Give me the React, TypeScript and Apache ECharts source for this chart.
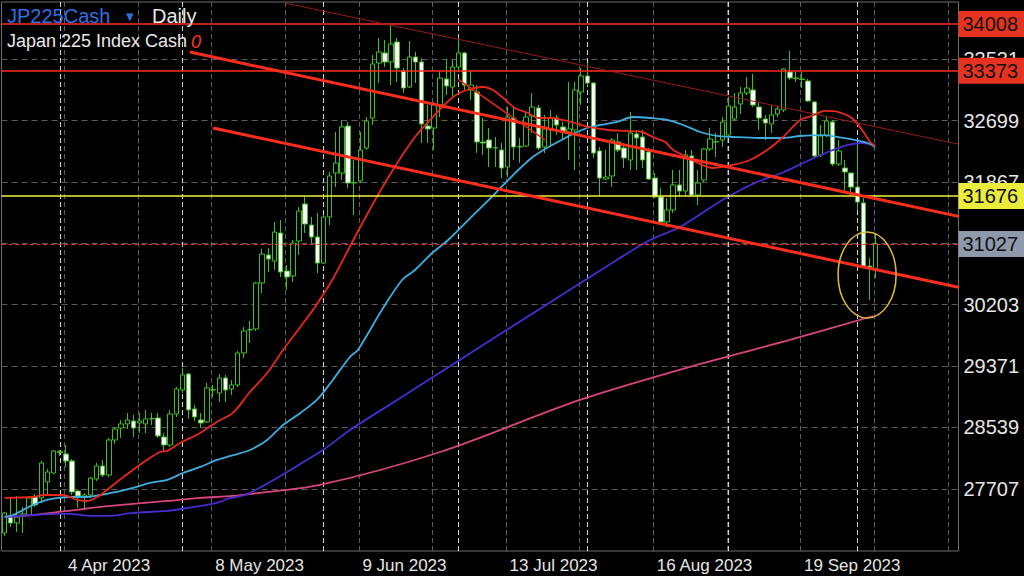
import React, { useEffect, useRef } from "react";
import * as echarts from "echarts";

const FONT = "'Liberation Sans', Arial, Helvetica, sans-serif";

// ---- data ----
const FIRST_DAY = [2023, 2, 21]; // 21 Mar 2023, daily bars on weekdays
const BAR_COUNT = 143;
const EMPTY_BARS = 13; // right-hand shift
const TICK_LABELS = ["4 Apr 2023", "8 May 2023", "9 Jun 2023", "13 Jul 2023", "16 Aug 2023", "19 Sep 2023"];

// [open, close, low, high]
const OHLC: number[][] = [
  [27109, 27381, 27069, 27394], [27326, 27245, 27191, 27597], [27245, 27326, 27123, 27611], [27353, 27367, 27109, 27462],
  [27353, 27584, 27340, 27611], [27597, 27489, 27462, 27638], [27584, 28058, 27516, 28085], [27800, 27936, 27624, 27977],
  [27922, 28221, 27909, 28234], [28200, 28215, 28153, 28234], [28180, 28085, 28004, 28302], [28085, 27665, 27624, 28112],
  [27678, 27611, 27448, 27692], [27597, 27624, 27448, 27651], [27624, 27854, 27584, 27868], [27841, 28017, 27814, 28058],
  [28017, 27895, 27868, 28099], [27895, 28370, 27868, 28397], [28370, 28519, 28315, 28546], [28532, 28587, 28397, 28641],
  [28587, 28641, 28519, 28736], [28627, 28532, 28410, 28709], [28600, 28627, 28465, 28736], [28587, 28655, 28465, 28777],
  [28655, 28660, 28573, 28736], [28668, 28424, 28397, 28736], [28410, 28302, 28221, 28465], [28302, 28722, 28275, 28777],
  [28722, 29061, 28682, 29088], [29047, 29251, 29007, 29345], [29264, 28777, 28655, 29278], [28790, 28682, 28627, 28844],
  [28641, 28600, 28532, 28736], [28614, 29075, 28600, 29142], [29047, 29050, 28953, 29115], [29007, 29210, 28885, 29264],
  [29210, 29047, 28885, 29251], [29061, 29115, 28980, 29183], [29115, 29549, 29088, 29576], [29549, 29847, 29481, 29901],
  [29861, 29868, 29684, 29982], [29874, 30498, 29847, 30511], [30498, 30890, 30362, 30958], [30877, 30823, 30647, 30972],
  [30795, 31188, 30674, 31324], [31175, 30647, 30579, 31351], [30660, 30579, 30403, 30741], [30593, 31039, 30511, 31080],
  [31066, 31473, 30877, 31527], [31568, 31297, 31175, 31663], [31283, 31121, 31026, 31392], [31121, 30768, 30633, 31446],
  [30768, 31392, 30755, 31419], [31392, 31948, 31283, 32002], [31988, 32124, 31798, 32544], [31988, 32612, 31893, 32707],
  [32625, 31853, 31785, 32680], [31853, 31860, 31419, 32165], [31880, 32300, 31853, 32544], [32327, 32693, 32300, 32747],
  [32734, 33466, 32639, 33588], [33479, 33628, 33208, 33818], [33615, 33493, 33425, 33791], [33493, 33737, 33181, 33994],
  [33764, 33411, 33222, 33818], [33371, 33140, 33073, 33411], [33154, 33560, 33140, 33777], [33560, 33493, 33208, 33628],
  [33493, 32653, 32395, 33547], [32625, 32585, 32395, 32910], [32598, 32910, 32300, 32951], [32910, 33276, 32747, 33371],
  [33262, 33168, 33045, 33533], [33154, 33425, 33032, 33533], [33425, 33615, 33357, 33818], [33615, 33181, 33113, 33630],
  [33113, 33181, 32978, 33384], [33086, 32409, 32259, 33181], [32409, 32395, 32232, 32734], [32436, 32327, 32070, 32598],
  [32327, 32334, 32070, 32476], [32300, 32056, 31920, 32395], [32070, 32747, 31934, 32883], [32734, 32341, 32165, 32870],
  [32341, 32348, 32124, 32463], [32354, 32747, 32341, 32815], [32761, 32883, 32531, 33073], [32870, 32327, 32300, 32910],
  [32341, 32585, 32259, 32775], [32571, 32734, 32341, 32842], [32734, 32639, 32503, 32775], [32612, 32544, 32436, 32680],
  [32544, 32585, 32165, 33222], [32571, 33113, 32029, 33222], [33086, 33303, 32910, 33411], [33303, 33208, 33168, 33479],
  [33208, 32259, 32192, 33222], [32287, 31920, 31676, 32341], [31907, 31934, 31893, 32300], [31948, 32436, 31798, 32463],
  [32409, 32300, 32273, 32531], [32327, 32192, 32056, 32368], [32165, 32531, 32029, 32815], [32517, 32463, 32029, 32571],
  [32476, 32165, 32056, 32571], [32273, 31907, 31893, 32327], [31920, 31663, 31649, 31988], [31663, 31324, 31283, 31785],
  [31324, 31487, 31256, 31649], [31487, 31826, 31446, 32029], [31826, 31744, 31663, 32029], [31744, 32232, 31690, 32300],
  [32219, 31690, 31663, 32300], [31690, 31853, 31555, 32029], [31893, 32314, 31866, 32327], [32314, 32449, 32287, 32598],
  [32409, 32415, 32205, 32531], [32436, 32680, 32341, 32747], [32503, 32897, 32476, 33018], [32720, 32883, 32693, 33073],
  [32924, 33073, 32788, 33154], [33073, 33140, 33045, 33289], [33113, 32910, 32883, 33330], [32883, 32734, 32571, 32937],
  [32720, 32666, 32436, 32775], [32653, 32775, 32531, 32910], [32788, 32856, 32747, 32897], [32842, 33398, 32815, 33411],
  [33357, 33276, 33249, 33642], [33276, 33270, 33222, 33357], [33262, 33256, 33140, 33357], [33235, 32964, 32951, 33262],
  [32951, 32219, 32192, 32964], [32232, 32490, 32205, 32639], [32503, 32693, 32476, 32747], [32680, 32110, 32083, 32707],
  [32110, 32287, 32083, 32436], [32056, 32002, 31717, 32165], [31988, 31798, 31690, 31995], [31798, 31595, 31487, 32395],
  [31582, 30714, 30701, 31649], [30728, 30701, 30267, 30836], [30674, 31027, 30565, 31175],
];

// moving averages: [bar index, value]
const MA_RED: number[][] = [
  [0, 27584], [4.6, 27597], [6.3, 27624], [9.5, 27624], [11, 27584], [11.8, 27557], [13.4, 27543], [15.1, 27597],
  [16.7, 27692], [18.3, 27800], [20.9, 27963], [23.2, 28099], [25.3, 28207], [26.5, 28221], [28.6, 28329], [31.9, 28465],
  [34.6, 28614], [37.2, 28736], [40, 29020], [42.8, 29278], [45.4, 29589], [48.2, 29901], [50.6, 30172], [53.4, 30538],
  [56.6, 31040], [60.4, 31622], [63.6, 32070], [66.9, 32476], [69.8, 32747], [73.1, 33018], [75.4, 33113], [78, 33154],
  [79.6, 33113], [81.1, 33018], [83.2, 32869], [85.3, 32802], [87, 32734], [89.2, 32734], [90.9, 32707], [93, 32666],
  [95.1, 32612], [98.4, 32571], [101.1, 32558], [103.9, 32544], [106, 32463], [107.7, 32409], [109, 32300], [111.2, 32205],
  [113, 32124], [115.5, 32056], [118.7, 32097], [121.5, 32165], [124.3, 32300], [126.9, 32476], [129.7, 32707],
  [131.6, 32761], [133.7, 32829], [135.9, 32815], [138.1, 32734], [139.8, 32571], [141.1, 32409], [141.9, 32354],
];
const MA_BLUE: number[][] = [
  [0, 27326], [1.4, 27353], [3, 27421], [4.6, 27489], [6.9, 27557], [8.7, 27584], [10.7, 27597], [13.4, 27597],
  [15.6, 27624], [18.3, 27665], [20.9, 27719], [23.7, 27787], [26.5, 27828], [29.1, 27922], [31.9, 28004], [34.6, 28099],
  [36.8, 28153], [40, 28234], [42.8, 28370], [45.4, 28573], [48.2, 28736], [50.9, 28912], [53.5, 29183], [56.3, 29495],
  [57.6, 29589], [61.5, 30131], [64.8, 30538], [66.9, 30674], [69.7, 30904], [72.3, 31080], [75.9, 31378], [79.6, 31677],
  [80.8, 31785], [86.1, 32205], [91.7, 32476], [94.9, 32598], [97.1, 32639], [99.8, 32680], [102.4, 32747], [105.2, 32734],
  [108, 32707], [110.6, 32639], [113.4, 32544], [116.1, 32490], [118.7, 32476], [123.1, 32463], [126.9, 32463],
  [129.7, 32490], [133.2, 32503], [135.9, 32476], [138.6, 32436], [140.7, 32395], [141.9, 32341],
];
const MA_PURPLE: number[][] = [
  [0, 27326], [4.6, 27353], [10.2, 27367], [14.4, 27340], [16.7, 27340], [20.9, 27381], [26.5, 27408], [29.7, 27448],
  [33, 27489], [35.1, 27530], [36.3, 27570], [40, 27652], [51.9, 28234], [56.3, 28505], [64.5, 28939], [80.8, 29806],
  [99.8, 30809], [105.2, 31080], [110.1, 31257], [117, 31622], [122.3, 31853], [126.7, 31988], [130.5, 32137],
  [134.2, 32273], [137.5, 32368], [139.8, 32395], [141.9, 32368],
];
const MA_PINK: number[][] = [
  [0, 27326], [4.6, 27353], [10.2, 27408], [15.6, 27462], [20.9, 27503], [26.5, 27543], [31.9, 27584], [37.2, 27611],
  [40, 27638], [51.4, 27760], [71, 28207], [93.8, 28912], [113.4, 29400], [128, 29725], [141.6, 30050],
];

const GRID_VALUES = [27707, 28539, 29371, 30203, 31035, 31867, 32699, 33531];
const LABELLED_VALUES = [27707, 28539, 29371, 30203, 31867, 32699, 33531];
const RESISTANCE_LEVELS = [34008, 33373];
const SUPPORT_LEVEL = 31676;
const LAST_PRICE = 31027;

// trend lines: [[bar, value], [bar, value]]
const CHANNEL_TOP = [[45.7, 34292], [155.5, 32379]];
const UPPER_TREND = [[30.2, 33628], [155.5, 31400]];
const LOWER_TREND = [[34.0, 32598], [155.5, 30439]];
const SHORT_TREND = [[73.9, 33262], [88.1, 32436]];
// highlight ellipse: centre bar, centre value, half width (bars), half height (points)
const HIGHLIGHT = [140.6, 30606, 4.73, 583];

const Y_MIN = 26865;
const Y_MAX = 34306;

// ---- helpers ----
const MONTHS = ["Jan", "Feb", "Mar", "Apr", "May", "Jun", "Jul", "Aug", "Sep", "Oct", "Nov", "Dec"];

function tradingDays() {
  const out: { label: string; month: number }[] = [];
  const d = new Date(Date.UTC(FIRST_DAY[0], FIRST_DAY[1], FIRST_DAY[2]));
  while (out.length < BAR_COUNT) {
    const wd = d.getUTCDay();
    if (wd !== 0 && wd !== 6) {
      out.push({ label: `${d.getUTCDate()} ${MONTHS[d.getUTCMonth()]} ${d.getUTCFullYear()}`, month: d.getUTCMonth() });
    }
    d.setUTCDate(d.getUTCDate() + 1);
  }
  return out;
}

function buildOption() {
  const days = tradingDays();
  const categories = days.map((d) => d.label);
  for (let i = 0; i < EMPTY_BARS; i++) categories.push(`_${i}`);
  const N = categories.length;

  const GREEN = "#3fc01f";
  const RED = "#ff2d1c";
  const GRAY_DASH = "#5c5c5c";
  const WHITE_DASH = "#d6d6d6";

  const monthStarts: number[] = [];
  days.forEach((d, i) => {
    if (i > 0 && d.month !== days[i - 1].month) monthStarts.push(i);
  });
  const tickIdx = categories.map((c, i) => (TICK_LABELS.includes(c) ? i : -1)).filter((i) => i >= 0);
  const gridX: number[] = [];
  for (let x = tickIdx[0] - 0.25; x < N - 0.5; x += 12) gridX.push(x);

  const gridLines: any[] = [];
  GRID_VALUES.forEach((v) => {
    gridLines.push({
      yAxis: v,
      lineStyle: { color: GRAY_DASH, width: 1, type: [6, 4] },
      label: LABELLED_VALUES.includes(v)
        ? { show: true, position: "end", distance: 5, formatter: String(v), color: "#e6e6e6", fontSize: 20, fontFamily: FONT }
        : { show: false },
    });
  });
  gridX.forEach((x) => gridLines.push({ xAxis: x, lineStyle: { color: GRAY_DASH, width: 1, type: [5, 3] }, label: { show: false } }));
  monthStarts.forEach((x) =>
    gridLines.push({ xAxis: x, lineStyle: { color: WHITE_DASH, width: 1, type: [5, 3] }, label: { show: false } })
  );

  const boxLabel = (text: string, bg: string) => ({
    show: true,
    position: "end",
    distance: 0,
    formatter: text,
    color: "#111",
    backgroundColor: bg,
    fontSize: 20,
    fontFamily: FONT,
    padding: [4, 4, 2, 4],
    width: 58,
  });

  const levelLines: any[] = [
    ...RESISTANCE_LEVELS.map((v) => ({ yAxis: v, lineStyle: { color: RED, width: 1.5, type: "solid" }, label: boxLabel(String(v), "#e5331f") })),
    { yAxis: SUPPORT_LEVEL, lineStyle: { color: "#f2f23a", width: 1.5, type: "solid" }, label: boxLabel(String(SUPPORT_LEVEL), "#ecec3c") },
    { yAxis: LAST_PRICE, lineStyle: { color: RED, width: 1, type: [4, 3] }, label: boxLabel(String(LAST_PRICE), "#8e9aac") },
    [
      { coord: CHANNEL_TOP[0], lineStyle: { color: "#9a1c10", width: 1, type: "solid" } },
      { coord: CHANNEL_TOP[1] },
    ],
    [{ coord: UPPER_TREND[0], lineStyle: { color: RED, width: 3, type: "solid" } }, { coord: UPPER_TREND[1] }],
    [{ coord: LOWER_TREND[0], lineStyle: { color: RED, width: 3, type: "solid" } }, { coord: LOWER_TREND[1] }],
    [{ coord: SHORT_TREND[0], lineStyle: { color: "#e0261a", width: 1.5, type: "solid" } }, { coord: SHORT_TREND[1] }],
  ];

  const maLine = (data: number[][], color: string) => ({
    type: "line",
    xAxisIndex: 1,
    yAxisIndex: 0,
    data,
    smooth: 0.3,
    symbol: "none",
    showSymbol: false,
    silent: true,
    z: 4,
    lineStyle: { color, width: 1.8 },
  });

  return {
    animation: false,
    backgroundColor: "#000",
    textStyle: { fontFamily: FONT },
    grid: { left: 1.5, right: 65.5, top: 2, bottom: 25, show: true, borderColor: "#6e6e6e", borderWidth: 1, backgroundColor: "#000" },
    xAxis: [
      {
        type: "category",
        data: categories,
        boundaryGap: true,
        axisLine: { show: false },
        axisTick: { show: false },
        splitLine: { show: false },
        axisLabel: {
          interval: (_i: number, v: string) => TICK_LABELS.includes(v),
          color: "#e6e6e6",
          fontSize: 17,
          fontFamily: FONT,
          align: "left",
          margin: 6,
          padding: [0, 0, 0, 2],
        },
      },
      { type: "value", min: -0.5, max: N - 0.5, show: false },
    ],
    yAxis: {
      type: "value",
      position: "right",
      min: Y_MIN,
      max: Y_MAX,
      splitLine: { show: false },
      axisLine: { show: false },
      axisTick: { show: false },
      axisLabel: { show: false },
    },
    graphic: [
      { type: "text", x: 7, y: 16, z: 100, style: { text: "JP225Cash", fill: "#2f6fe6", fontSize: 20, fontFamily: FONT, verticalAlign: "middle" } },
      { type: "text", x: 126, y: 16, z: 100, style: { text: "▼", fill: "#2f6fe6", fontSize: 10, fontFamily: "DejaVu Sans", verticalAlign: "middle" } },
      { type: "text", x: 152, y: 16, z: 100, style: { text: "Daily", fill: "#e8e8e8", fontSize: 20, fontFamily: FONT, verticalAlign: "middle" } },
      { type: "text", x: 7, y: 41, z: 100, style: { text: "Japan 225 Index Cash", fill: "#e8e8e8", fontSize: 18, fontFamily: FONT, verticalAlign: "middle" } },
      { type: "text", x: 191, y: 42, z: 100, style: { text: "0", fill: "#ff3322", fontSize: 18, fontStyle: "italic", fontFamily: FONT, verticalAlign: "middle" } },
    ],
    series: [
      {
        type: "line",
        xAxisIndex: 1,
        yAxisIndex: 0,
        data: [],
        silent: true,
        markLine: { silent: true, symbol: ["none", "none"], z: 1, animation: false, emphasis: { disabled: true }, data: gridLines },
      },
      {
        type: "candlestick",
        xAxisIndex: 0,
        yAxisIndex: 0,
        data: OHLC,
        barWidth: 5,
        silent: true,
        z: 3,
        itemStyle: { color: "#000", color0: "#ffffff", borderColor: GREEN, borderColor0: GREEN, borderColorDoji: GREEN, borderWidth: 1 },
      },
      maLine(MA_PINK, "#d8457e"),
      maLine(MA_PURPLE, "#4a2bd0"),
      maLine(MA_BLUE, "#3eaee0"),
      maLine(MA_RED, "#e8281a"),
      {
        type: "line",
        xAxisIndex: 1,
        yAxisIndex: 0,
        data: [],
        silent: true,
        markLine: { silent: true, symbol: ["none", "none"], z: 6, animation: false, emphasis: { disabled: true }, data: levelLines },
      },
      {
        type: "custom",
        xAxisIndex: 1,
        yAxisIndex: 0,
        silent: true,
        z: 7,
        data: [HIGHLIGHT],
        encode: { x: 0, y: 1 },
        renderItem: (_p: any, api: any) => {
          const c = api.coord([api.value(0), api.value(1)]);
          const s = api.size([api.value(2), api.value(3)]);
          return {
            type: "ellipse",
            shape: { cx: c[0], cy: c[1], rx: s[0], ry: s[1] },
            style: { fill: "none", stroke: "#e2b83a", lineWidth: 1.5 },
          };
        },
      },
    ],
  };
}

export default function App() {
  const ref = useRef<HTMLDivElement>(null);
  useEffect(() => {
    const chart = echarts.init(ref.current!, null, { renderer: "svg" });
    chart.setOption(buildOption() as any);
    return () => chart.dispose();
  }, []);
  return <div ref={ref} style={{ position: "absolute", left: 0, top: 0, width: 1024, height: 576, background: "#000" }} />;
}
